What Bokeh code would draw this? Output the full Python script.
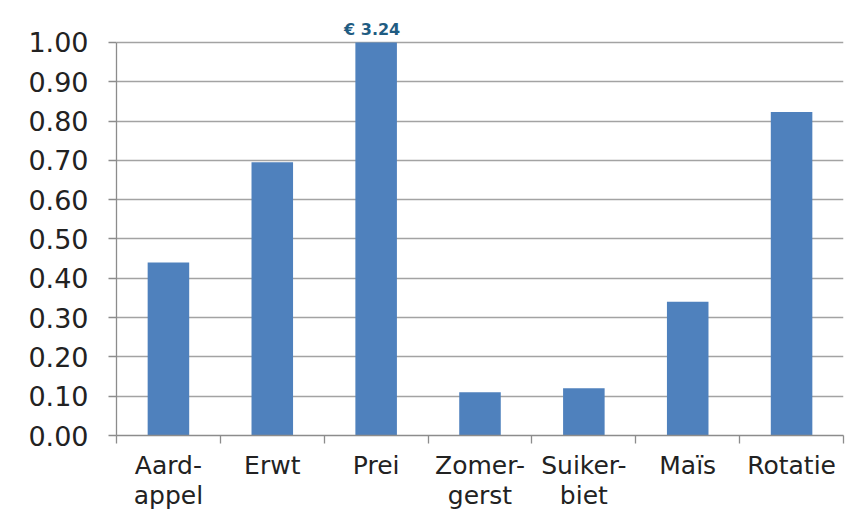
from bokeh.plotting import figure
from bokeh.models import (FixedTicker, LinearAxis, NumeralTickFormatter, Range1d)
from bokeh.embed import file_html
from bokeh.resources import INLINE

# ---- data ----
categories = ["Aard-\nappel", "Erwt", "Prei", "Zomer-\ngerst", "Suiker-\nbiet", "Maïs", "Rotatie"]
values = [0.44, 0.695, 3.24, 0.11, 0.12, 0.34, 0.823]
y_ticks = [0.0, 0.1, 0.2, 0.3, 0.4, 0.5, 0.6, 0.7, 0.8, 0.9, 1.0]
y_max = 1.0
note_category = "Prei"

n = len(categories)
xs = [i + 0.5 for i in range(n)]
tops = [min(v, y_max) for v in values]  # axis is cut at 1.00

FONT = "DejaVu Sans"
BAR = "#4F81BD"
GRID = "#A3A3A3"
AXIS = "#8C8C8C"

p = figure(width=853, height=512, output_backend="svg", toolbar_location=None,
           x_range=Range1d(0, n), y_range=Range1d(0, y_max * 1.061),
           min_border_left=116, min_border_right=10, min_border_top=18, min_border_bottom=0,
           x_axis_location=None)
p.outline_line_color = None
p.background_fill_color = "white"
p.border_fill_color = "white"

p.vbar(x=xs, top=tops, width=0.4, color=BAR, line_color=None)

# y axis
p.yaxis.ticker = FixedTicker(ticks=y_ticks)
p.yaxis.bounds = (0, y_max)
p.yaxis.formatter = NumeralTickFormatter(format="0.00")
p.yaxis.major_label_text_font = FONT
p.yaxis.major_label_text_font_size = "27px"
p.yaxis.major_label_text_color = "#222222"
p.yaxis.axis_line_color = AXIS
p.yaxis.axis_line_width = 1.3
p.yaxis.major_tick_line_color = AXIS
p.yaxis.major_tick_line_width = 1.3
p.yaxis.major_tick_out = 8
p.yaxis.major_tick_in = 0
p.yaxis.minor_tick_line_color = None
p.yaxis.major_label_standoff = 20

p.ygrid.ticker = FixedTicker(ticks=y_ticks)
p.ygrid.grid_line_color = GRID
p.ygrid.grid_line_width = 1.3
p.xgrid.grid_line_color = None

# x axis: tick marks at category boundaries
bounds_ticks = list(range(n + 1))
xa = LinearAxis(ticker=FixedTicker(ticks=bounds_ticks))
xa.major_label_overrides = {t: "" for t in bounds_ticks}
xa.axis_line_color = AXIS
xa.axis_line_width = 1.3
xa.major_tick_line_color = AXIS
xa.major_tick_line_width = 1.3
xa.major_tick_out = 8
xa.major_tick_in = 0
xa.minor_tick_line_color = None
xa.major_label_text_font_size = "1px"
xa.major_label_standoff = 0
p.add_layout(xa, "below")

# x axis: category labels at centres
xl = LinearAxis(ticker=FixedTicker(ticks=xs))
xl.major_label_overrides = {x: c for x, c in zip(xs, categories)}
xl.axis_line_color = None
xl.major_tick_line_color = None
xl.minor_tick_line_color = None
xl.major_label_text_font = FONT
xl.major_label_text_font_size = "25px"
xl.major_label_text_color = "#222222"
xl.major_label_text_line_height = 1.05
xl.major_label_standoff = 1
p.add_layout(xl, "below")

# annotation of the cut-off bar
idx = [c.replace("\n", "").replace("-", "") for c in categories].index(note_category)
p.text(x=[xs[idx]], y=[y_max], text=["€ %.2f" % values[idx]], text_font={"value": FONT},
       text_font_size="16px", text_font_style="bold", text_color="#1F5C82",
       text_align="center", text_baseline="bottom", y_offset=-3, x_offset=-4)

open("out.html", "w").write(file_html(p, INLINE))
